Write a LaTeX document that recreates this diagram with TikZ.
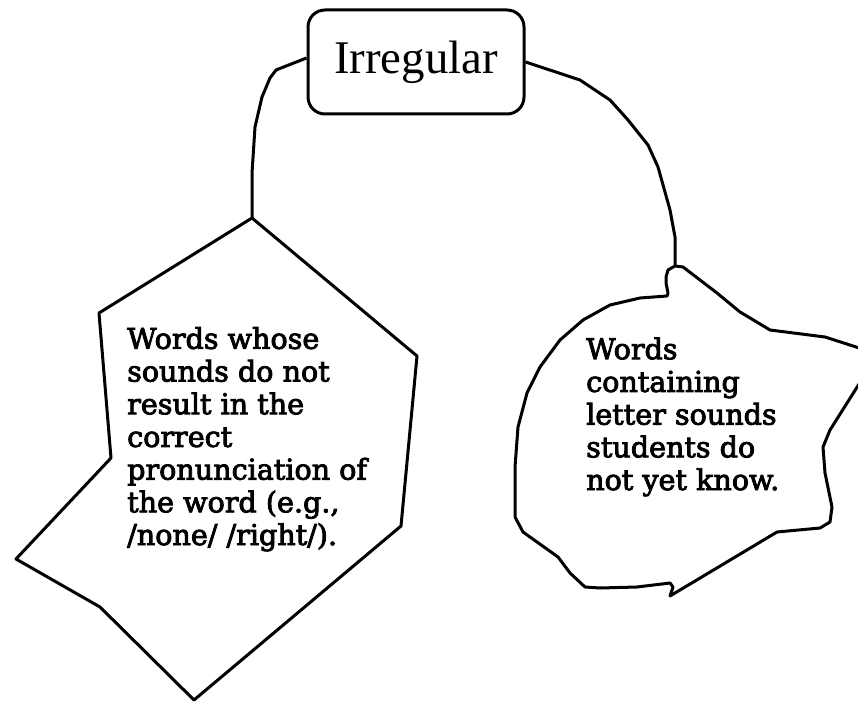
\documentclass[tikz,border=0pt]{standalone}
\usepackage{fontspec}
\setmainfont{Liberation Serif}
\newfontfamily\bodyfont[FakeBold=3]{DejaVu Serif}
\begin{document}
\begin{tikzpicture}[x=1pt,y=-1pt,
  outline/.style={line width=3pt,line join=round,line cap=round},
  conn/.style={line width=3pt,line join=round},
  titlebox/.style={draw,line width=3pt,rounded corners=17pt,minimum width=216pt,minimum height=104pt,inner sep=0pt,font=\fontsize{46.8}{50}\selectfont},
  bodytext/.style={anchor=base west,align=left,inner sep=0pt,font=\bodyfont\fontsize{28.6}{32.7}\selectfont}]
\useasboundingbox (0,0) rectangle (858,703);
% title
\node[titlebox] (irr) at (416,62) {Irregular};
% left polygon
\coordinate (lt) at (252,218);
\draw[outline] (lt) -- (417,356) -- (401,526) -- (194,700) -- (100,607) -- (16,559) -- (111,458) -- (99,313) -- cycle;
% right blob
\coordinate (rt) at (675,266);
\begin{scope}
\clip (0,0) rectangle (858,703);
\draw[outline] (rt) -- (668,270) -- (666,277) -- (666,283) -- (668,293) -- (667,296) -- (640,298) -- (610,305) -- (583,320) -- (560,340) -- (540,367) -- (527,393) -- (518,427) -- (515,467) -- (515,517) -- (523,532) -- (537,542) -- (558,557) -- (570,573) -- (585,587) -- (600,588) -- (637,587) -- (670,583) -- (673,587) -- (670,596) -- (777,532) -- (820,528) -- (830,522) -- (832,507) -- (825,473) -- (823,447) -- (830,430) -- (878,354) -- (825,337) -- (770,330) -- (740,312) -- (717,293) -- (683,267) -- cycle;
\end{scope}
% connectors
\draw[conn] ([yshift=4pt]irr.west) -- (276,70) -- (270,78) -- (262,97) -- (255,127) -- (252,173) -- (lt);
\draw[conn] (irr.east) -- (580,80) -- (610,100) -- (628,120) -- (648,145) -- (658,167) -- (670,210) -- (675,237) -- (rt);
% texts (base anchor = baseline of the last line)
\node[bodytext] (ltext) at (127,545) {Words whose\\sounds do not\\result in the\\correct\\pronunciation of\\the word (e.g.,\\/none/ /right/).};
\node[bodytext] (rtext) at (586,490) {Words\\containing\\letter sounds\\students do\\not yet know.};
\end{tikzpicture}
\end{document}
